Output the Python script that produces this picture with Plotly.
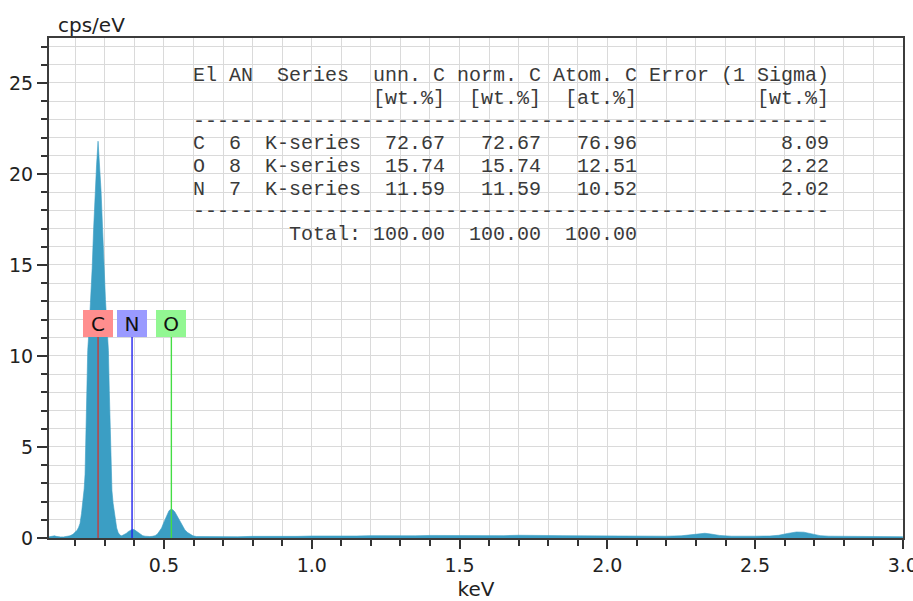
import plotly.graph_objects as go

# ---- EDS spectrum (energy in keV, intensity in cps/eV) ----
energy_kev = [
    0.110, 0.115, 0.120, 0.125, 0.130, 0.135, 0.140, 0.150, 0.160, 0.170, 0.180,
    0.182, 0.192, 0.199, 0.206, 0.211, 0.216, 0.221, 0.226, 0.230, 0.233, 0.236,
    0.239, 0.242, 0.247, 0.252, 0.257, 0.262, 0.267, 0.272, 0.277,
    0.282, 0.287, 0.292, 0.297, 0.302, 0.307, 0.312, 0.315, 0.318, 0.321, 0.324,
    0.328, 0.333, 0.337, 0.340, 0.345, 0.351,
    0.357, 0.365, 0.372, 0.379, 0.386, 0.393, 0.400, 0.407, 0.414, 0.421, 0.428,
    0.436, 0.445, 0.452,
    0.460, 0.470, 0.478, 0.486, 0.492, 0.498, 0.505, 0.511, 0.517, 0.524, 0.530,
    0.537, 0.545, 0.554, 0.562, 0.571, 0.580, 0.588, 0.598, 0.610,
    0.65, 0.70, 0.75, 0.80, 0.85, 0.90, 0.95, 1.00, 1.05, 1.10, 1.15, 1.20,
    1.25, 1.30, 1.35, 1.40, 1.45, 1.50, 1.55, 1.60, 1.65, 1.70, 1.75, 1.80,
    1.85, 1.90, 1.95, 2.00, 2.05, 2.10, 2.15, 2.20, 2.25, 2.28, 2.31, 2.33,
    2.35, 2.38, 2.42, 2.45, 2.50, 2.55, 2.58, 2.61, 2.64, 2.665, 2.69, 2.72,
    2.75, 2.80, 2.85, 2.90, 2.95, 3.00,
]
counts = [
    0.06, 0.08, 0.12, 0.14, 0.12, 0.09, 0.07, 0.06, 0.06, 0.07, 0.09,
    0.12, 0.20, 0.30, 0.43, 0.58, 0.80, 1.35, 2.00, 2.70, 3.50, 5.50,
    8.00, 10.30, 11.60, 13.00, 14.80, 17.00, 19.00, 20.50, 21.80,
    20.60, 19.10, 17.10, 14.90, 13.10, 11.70, 10.30, 8.10, 5.60, 3.60, 2.60,
    1.90, 1.25, 0.80, 0.55, 0.30, 0.16,
    0.12, 0.17, 0.25, 0.35, 0.44, 0.48, 0.45, 0.37, 0.27, 0.19, 0.13,
    0.10, 0.08, 0.08,
    0.09, 0.13, 0.22, 0.38, 0.55, 0.80, 1.10, 1.35, 1.50, 1.58, 1.55,
    1.43, 1.20, 0.90, 0.65, 0.44, 0.30, 0.20, 0.12, 0.08,
    0.07, 0.08, 0.07, 0.09, 0.08, 0.10, 0.09, 0.11, 0.10, 0.12, 0.11, 0.13,
    0.12, 0.13, 0.12, 0.14, 0.13, 0.13, 0.12, 0.14, 0.13, 0.15, 0.13, 0.12,
    0.13, 0.12, 0.11, 0.12, 0.11, 0.10, 0.11, 0.10, 0.12, 0.17, 0.24, 0.26,
    0.22, 0.14, 0.10, 0.09, 0.10, 0.11, 0.15, 0.25, 0.33, 0.32, 0.22, 0.13,
    0.10, 0.09, 0.08, 0.08, 0.07, 0.07,
]

# ---- element line markers ----
line_elements = ["C", "N", "O"]
line_energies = [0.277, 0.392, 0.525]
line_colors = ["#c43c3c", "#2222ee", "#44dd44"]
label_colors = ["#ff8e8e", "#9a9aff", "#92f792"]
label_height = 11.05  # cps/eV where the element tags sit

# ---- quantification results ----
q_elements = ["C", "O", "N"]
q_atomic_no = [6, 8, 7]
q_series = ["K-series", "K-series", "K-series"]
q_unn_wt = [72.67, 15.74, 11.59]
q_norm_wt = [72.67, 15.74, 11.59]
q_atom_at = [76.96, 12.51, 10.52]
q_error_wt = [8.09, 2.22, 2.02]
q_totals = [100.00, 100.00, 100.00]

W, H = 913, 601
ML, MR, MT, MB = 49, 10, 38, 63
PW, PH = W - ML - MR, H - MT - MB


def px_x(px):
    return (px - ML) / PW


def px_y(py):
    return (H - MB - py) / PH


fig = go.Figure()

fig.add_trace(go.Scatter(
    x=energy_kev, y=counts, mode="lines",
    line=dict(color="#3b9ec4", width=0.6),
    fill="tozeroy", fillcolor="#3b9ec4",
    hoverinfo="skip", showlegend=False,
))

for el, e, c in zip(line_elements, line_energies, line_colors):
    fig.add_trace(go.Scatter(
        x=[e, e], y=[0, label_height], mode="lines",
        line=dict(color=c, width=1.4),
        hoverinfo="skip", showlegend=False,
    ))

annotations = []
for el, e, bg in zip(line_elements, line_energies, label_colors):
    annotations.append(dict(
        x=e, y=label_height, xref="x", yref="y",
        xanchor="center", yanchor="bottom",
        text=el, showarrow=False,
        font=dict(family="DejaVu Sans", size=20, color="#111111"),
        bgcolor=bg, borderwidth=0, borderpad=2, width=26, height=23,
    ))

# results table as fixed-width text lines
NB = "\u00a0"
rows = []
rows.append("El AN  Series  unn. C norm. C Atom. C Error (1 Sigma)")
rows.append(" " * 15 + "[wt.%]  [wt.%]  [at.%]" + " " * 10 + "[wt.%]")
rows.append("-" * 53)
for el, an, se, u, n, a, er in zip(q_elements, q_atomic_no, q_series,
                                   q_unn_wt, q_norm_wt, q_atom_at, q_error_wt):
    rows.append(f"{el:<3}{an:<3}{se}{u:7.2f}{n:8.2f}{a:8.2f}{er:16.2f}")
rows.append("-" * 53)
rows.append(" " * 8 + "Total:" + f"{q_totals[0]:7.2f}{q_totals[1]:8.2f}{q_totals[2]:8.2f}")

row_y0, row_step = 76, 22.6
for i, r in enumerate(rows):
    annotations.append(dict(
        x=px_x(191), y=px_y(row_y0 + i * row_step), xref="paper", yref="paper",
        xanchor="left", yanchor="middle", showarrow=False,
        text=r.replace(" ", NB),
        font=dict(family="Liberation Mono", size=20, color="#3a3a3a"),
    ))

annotations.append(dict(
    x=px_x(56), y=px_y(25), xref="paper", yref="paper",
    xanchor="left", yanchor="middle", showarrow=False, text="cps/eV",
    font=dict(family="DejaVu Sans", size=20, color="#222222"),
))

shapes = [dict(
    type="rect", xref="paper", yref="paper",
    x0=px_x(165), x1=px_x(857), y0=px_y(250), y1=px_y(56),
    fillcolor="white", line=dict(width=0), layer="between",
)]

grid = "#dadada"
fig.update_layout(
    width=W, height=H, autosize=False,
    margin=dict(l=ML, r=MR, t=MT, b=MB, pad=0, autoexpand=False),
    paper_bgcolor="white", plot_bgcolor="white",
    annotations=annotations, shapes=shapes,
    font=dict(family="DejaVu Sans", color="#222222"),
    xaxis=dict(
        range=[0.111, 3.0005], tick0=0.5, dtick=0.5, tickformat=".1f",
        automargin=False, ticklabeloverflow="allow",
        ticks="outside", ticklen=9, tickwidth=1.5, tickcolor="#333333",
        tickfont=dict(size=19, color="#222222"),
        showgrid=True, gridcolor=grid, gridwidth=1, zeroline=False,
        showline=True, linecolor="#3c3c3c", linewidth=2, mirror=True,
        minor=dict(dtick=0.1, tick0=0, ticks="outside", ticklen=6,
                   tickwidth=1.5, tickcolor="#333333",
                   showgrid=True, gridcolor=grid, gridwidth=1),
        title=dict(text="keV", font=dict(size=20, color="#222222"), standoff=10),
    ),
    yaxis=dict(
        range=[0, 27.47], tick0=0, dtick=5,
        automargin=False,
        ticks="outside", ticklen=10, tickwidth=1.5, tickcolor="#333333",
        tickfont=dict(size=19, color="#222222"),
        showgrid=True, gridcolor=grid, gridwidth=1, zeroline=False,
        showline=True, linecolor="#3c3c3c", linewidth=2, mirror=True,
        minor=dict(dtick=1, tick0=0, ticks="outside", ticklen=6,
                   tickwidth=1.5, tickcolor="#333333",
                   showgrid=True, gridcolor=grid, gridwidth=1),
    ),
)

fig.write_html("out.html")
